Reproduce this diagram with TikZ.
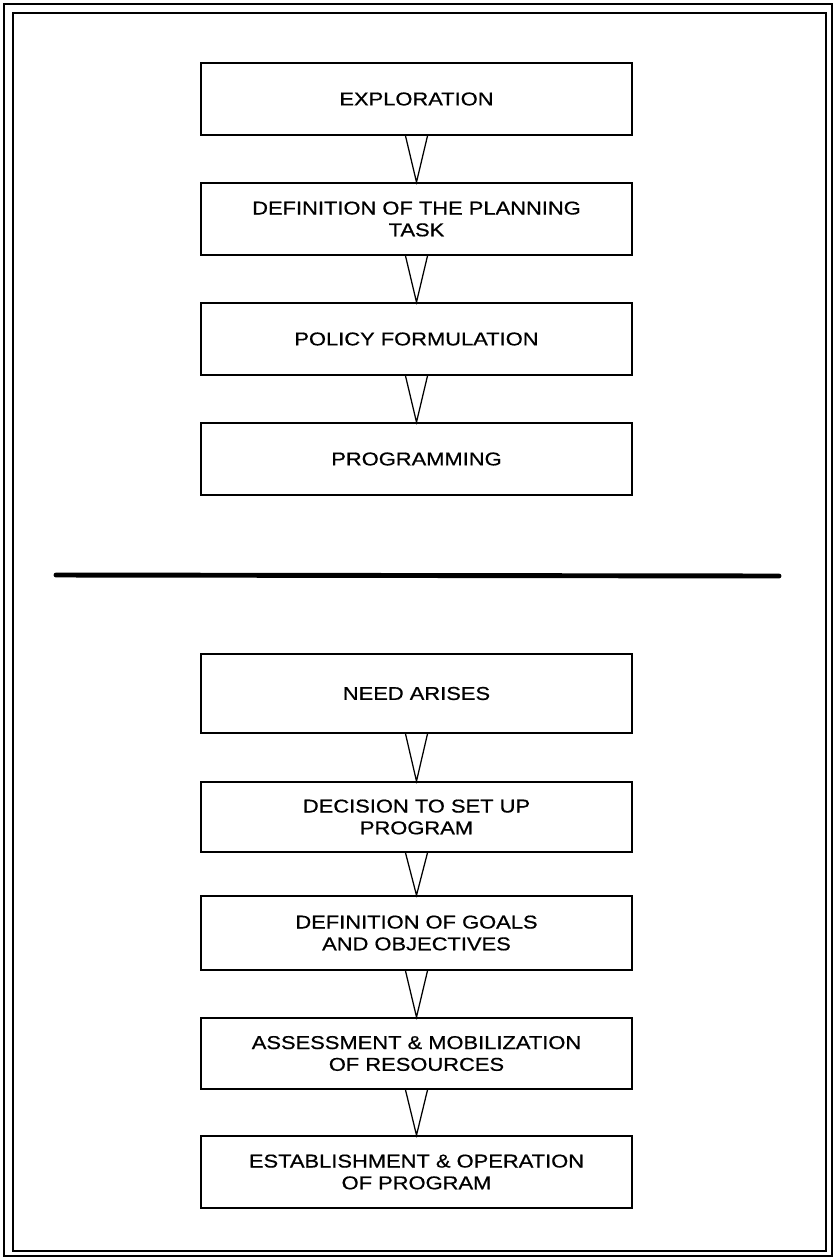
\documentclass[tikz,border=0pt]{standalone}
\usepackage{fontspec}
\setmainfont{Liberation Sans}
\newfontfamily\stagefont{Liberation Sans}[FakeStretch=1.18,FakeBold=0.7]
\usetikzlibrary{calc}

\begin{document}
\begin{tikzpicture}[x=0.025cm,y=-0.025cm,
    stage/.style={draw,line width=1.2pt,minimum width=10.775cm,align=center,
        font=\stagefont\fontsize{13.2}{15.5}\selectfont},
    vee/.style={line width=0.9pt}]
    \useasboundingbox (0,0) rectangle (834,1259);
    % double frame
    \draw[line width=1.1pt] (4,4) rectangle (832,1256);
    \draw[line width=1.1pt] (13,13) rectangle (826,1251);
    % planning stages
    \node[stage,minimum height=1.8cm] (expl) at (416.5,99) {EXPLORATION};
    \node[stage,minimum height=1.8cm] (task) at (416.5,219) {DEFINITION OF THE PLANNING\\TASK};
    \node[stage,minimum height=1.8cm] (policy) at (416.5,339) {POLICY FORMULATION};
    \node[stage,minimum height=1.8cm] (prog) at (416.5,459) {PROGRAMMING};
    % divider
    \draw[line width=3.5pt,line cap=round] (56,575) -- (779,576);
    % program stages
    \node[stage,minimum height=1.975cm] (need) at (416.5,693.5) {NEED ARISES};
    \node[stage,minimum height=1.75cm] (decide) at (416.5,817) {DECISION TO SET UP\\PROGRAM};
    \node[stage,minimum height=1.85cm] (goals) at (416.5,933) {DEFINITION OF GOALS\\AND OBJECTIVES};
    \node[stage,minimum height=1.775cm] (assess) at (416.5,1053.5) {ASSESSMENT \& MOBILIZATION\\OF RESOURCES};
    \node[stage,minimum height=1.8cm] (estab) at (416.5,1172) {ESTABLISHMENT \& OPERATION\\OF PROGRAM};
    \foreach \a/\b in {expl/task,task/policy,policy/prog,need/decide,decide/goals,goals/assess,assess/estab}
    {
    \draw[vee] ($(\a.south)+(-11,0)$) -- (\b.north) -- ($(\a.south)+(11,0)$);
    }
\end{tikzpicture}
\end{document}
